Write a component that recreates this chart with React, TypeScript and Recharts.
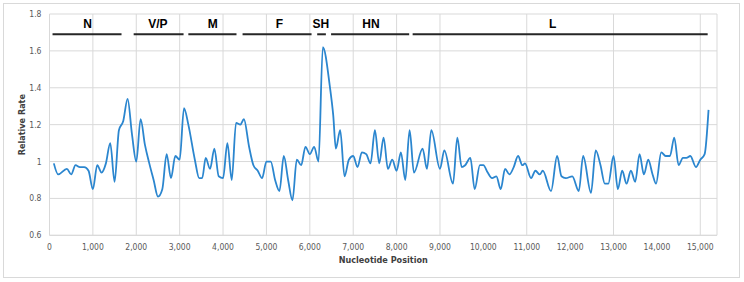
import { LineChart, Line, XAxis, YAxis, CartesianGrid, ReferenceLine, ReferenceDot } from "recharts";

// sliding-window relative substitution rate along the genome
const positions = [
  100, 200, 400, 500, 600, 700, 800, 900, 1000, 1100, 1200, 1300, 1400, 1500, 1600, 1700, 1800, 1900, 2000,
  2100, 2200, 2300, 2400, 2500, 2600, 2700, 2800, 2900, 3000, 3100, 3200, 3350, 3450, 3520, 3600, 3700, 3800,
  3900, 4000, 4100, 4200, 4300, 4400, 4480, 4600, 4700, 4800, 4900, 5000, 5100, 5200, 5300, 5400, 5500, 5600,
  5700, 5800, 5900, 6000, 6100, 6200, 6300, 6460, 6540, 6600, 6700, 6800, 6900, 7000, 7100, 7200, 7300, 7400,
  7500, 7600, 7700, 7800, 7900, 8000, 8100, 8200, 8300, 8400, 8600, 8700, 8800, 9000, 9100, 9300, 9400, 9500,
  9580, 9700, 9800, 9920, 10000, 10100, 10200, 10300, 10400, 10500, 10600, 10700, 10800, 10900, 10960, 11100,
  11200, 11300, 11370, 11560, 11700, 11800, 11900, 12050, 12200, 12300, 12480, 12590, 12700, 12800, 12880,
  13000, 13100, 13200, 13300, 13400, 13500, 13600, 13700, 13800, 13900, 13980, 14100, 14200, 14300, 14400,
  14500, 14600, 14680, 14770, 14900, 15000, 15100, 15190,
];
const rates = [
  0.99, 0.93, 0.96, 0.93, 0.98, 0.97, 0.97, 0.95, 0.85, 0.98, 0.94, 0.99, 1.1, 0.89, 1.17, 1.22, 1.34, 1.15, 1.0,
  1.23, 1.09, 0.99, 0.9, 0.81, 0.85, 1.04, 0.91, 1.03, 1.01, 1.29, 1.2, 1.01, 0.91, 0.91, 1.02, 0.96, 1.07,
  0.92, 0.91, 1.1, 0.9, 1.21, 1.2, 1.23, 1.08, 0.98, 0.95, 0.91, 1.0, 1.0, 0.9, 0.84, 1.03, 0.9, 0.79,
  1.01, 0.98, 1.08, 1.04, 1.08, 1.0, 1.62, 1.41, 1.25, 1.07, 1.17, 0.92, 1.01, 1.03, 0.97, 1.05, 1.04, 0.99,
  1.17, 0.99, 1.13, 0.96, 1.01, 0.95, 1.05, 0.9, 1.17, 0.94, 1.07, 0.96, 1.17, 0.96, 1.06, 0.88, 1.13, 0.97,
  0.98, 1.02, 0.85, 0.98, 0.98, 0.94, 0.91, 0.92, 0.85, 0.96, 0.93, 0.97, 1.03, 0.98, 0.99, 0.91,
  0.95, 0.93, 0.95, 0.84, 1.03, 0.92, 0.91, 0.92, 0.84, 1.03, 0.83, 1.06, 0.98, 0.88, 0.88,
  1.03, 0.85, 0.95, 0.88, 0.95, 0.89, 1.04, 0.93, 1.01, 0.93, 0.88, 1.05, 1.03, 1.03, 1.13,
  0.98, 1.02, 1.02, 1.03, 0.97, 1.01, 1.04, 1.28,
];

// gene regions drawn above the curve
const geneNames = ["N", "V/P", "M", "F", "SH", "HN", "L"];
const geneStarts = [70, 1940, 3200, 4450, 6170, 6490, 8370];
const geneEnds = [1660, 3090, 4310, 6040, 6370, 8290, 15170];
const geneLabelPos = [880, 2500, 3760, 5300, 6255, 7410, 11600];

const xTicks = [0, 1000, 2000, 3000, 4000, 5000, 6000, 7000, 8000, 9000, 10000, 11000, 12000, 13000, 14000, 15000];
const yTicks = [0.6, 0.8, 1.0, 1.2, 1.4, 1.6, 1.8];

const data = positions.map((p, i) => ({ pos: p, rate: rates[i] }));

const tickFont = { fill: "#595959", fontSize: 8.5, fontFamily: "'Liberation Sans Narrow', 'DejaVu Sans Condensed', sans-serif" };
const titleFont = "'Liberation Sans Narrow', 'DejaVu Sans Condensed', sans-serif";

function YTitle(props: any) {
  const vb = props.viewBox;
  const cx = 22;
  const cy = vb.y + vb.height / 2;
  return (
    <text x={cx} y={cy} transform={`rotate(-90 ${cx} ${cy})`} textAnchor="middle" dominantBaseline="central"
      fontSize={9} fontWeight="bold" fill="#404040" fontFamily={titleFont}>
      Relative Rate
    </text>
  );
}

export default function App() {
  return (
    <div style={{ position: "absolute", left: 0, top: 0, width: 744, height: 282, background: "#fff" }}>
      <div style={{ position: "absolute", left: 3, top: 3, width: 737, height: 275, border: "1px solid #d9d9d9", boxSizing: "border-box" }} />
      <LineChart width={744} height={282} data={data} margin={{ top: 14, right: 27, left: 9.5, bottom: 16.7 }}>
        <CartesianGrid stroke="#d9d9d9" strokeWidth={1} />
        <XAxis
          dataKey="pos"
          type="number"
          domain={[0, 15385]}
          ticks={xTicks}
          allowDataOverflow
          height={30}
          tick={tickFont}
          tickLine={false}
          tickMargin={3}
          axisLine={{ stroke: "#d9d9d9" }}
          tickFormatter={(v: number) => v.toLocaleString("en-US")}
          label={{ value: "Nucleotide Position", position: "insideBottom", offset: 2.5, fontSize: 9, fontWeight: "bold", fill: "#404040", fontFamily: titleFont }}
        />
        <YAxis
          type="number"
          domain={[0.6, 1.8]}
          ticks={yTicks}
          width={40}
          tick={tickFont}
          tickLine={false}
          axisLine={false}
          tickFormatter={(v: number) => String(Number(v.toFixed(1)))}
          label={<YTitle />}
        />
        {geneNames.map((g, i) => (
          <ReferenceLine
            key={"seg" + g}
            segment={[{ x: geneStarts[i], y: 1.69 }, { x: geneEnds[i], y: 1.69 }]}
            stroke="#262626"
            strokeWidth={2}
          />
        ))}
        {geneNames.map((g, i) => (
          <ReferenceDot
            key={"lab" + g}
            x={geneLabelPos[i]}
            y={1.745}
            r={0}
            fill="none"
            stroke="none"
            label={{ value: g, position: "center", fontSize: 12, fontWeight: "bold", fill: "#000", fontFamily: "'Liberation Sans', Arial, sans-serif" }}
          />
        ))}
        <Line
          type="monotone"
          dataKey="rate"
          stroke="#2b86cf"
          strokeWidth={1.8}
          dot={false}
          isAnimationActive={false}
        />
      </LineChart>
    </div>
  );
}
